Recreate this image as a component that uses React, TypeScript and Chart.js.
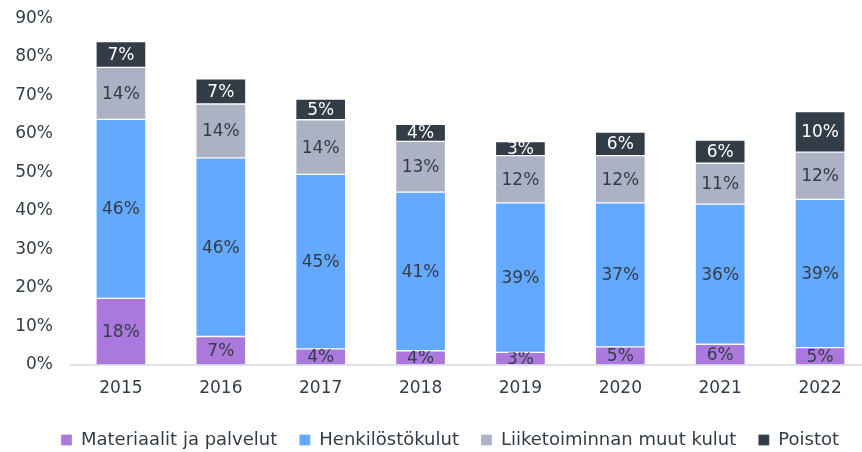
import React, { useEffect, useRef } from "react";
import { Chart, registerables } from "chart.js";

Chart.register(...registerables);

const years = ["2015", "2016", "2017", "2018", "2019", "2020", "2021", "2022"];

const materiaalit = [17.3, 7.4, 4.2, 3.7, 3.3, 4.7, 5.4, 4.5];
const henkilosto = [46.5, 46.4, 45.3, 41.2, 38.8, 37.4, 36.4, 38.5];
const muutKulut = [13.5, 14.0, 14.2, 13.2, 12.3, 12.3, 10.6, 12.3];
const poistot = [6.7, 6.5, 5.4, 4.4, 3.6, 6.1, 6.0, 10.5];

const materiaalitLabels = ["18%", "7%", "4%", "4%", "3%", "5%", "6%", "5%"];
const henkilostoLabels = ["46%", "46%", "45%", "41%", "39%", "37%", "36%", "39%"];
const muutKulutLabels = ["14%", "14%", "14%", "13%", "12%", "12%", "11%", "12%"];
const poistotLabels = ["7%", "7%", "5%", "4%", "3%", "6%", "6%", "10%"];

const yTicks = [0, 10, 20, 30, 40, 50, 60, 70, 80, 90];

const FONT = "'DejaVu Sans', sans-serif";
const TEXT = "#333d47";

const segmentLabels = {
  id: "segmentLabels",
  afterDatasetsDraw(chart: any) {
    const ctx = chart.ctx;
    chart.data.datasets.forEach((ds: any, di: number) => {
      const meta = chart.getDatasetMeta(di);
      if (meta.hidden) return;
      meta.data.forEach((bar: any, i: number) => {
        const text = ds.valueLabels[i];
        const top = Math.min(bar.y, bar.base);
        const bottom = Math.max(bar.y, bar.base);
        const left = bar.x - bar.width / 2;
        ctx.save();
        ctx.beginPath();
        ctx.rect(left, top, bar.width, bottom - top);
        ctx.clip();
        ctx.fillStyle = ds.labelColor;
        ctx.font = "17px " + FONT;
        ctx.textAlign = "center";
        ctx.textBaseline = "middle";
        ctx.fillText(text, bar.x, (top + bottom) / 2 + 1);
        ctx.restore();
      });
    });
  },
};

export default function App() {
  const ref = useRef<HTMLCanvasElement>(null);
  useEffect(() => {
    if (!ref.current) return;
    const chart = new Chart(ref.current, {
      type: "bar",
      data: {
        labels: years,
        datasets: [
          {
            label: "Materiaalit ja palvelut",
            data: materiaalit,
            backgroundColor: "#ab78dd",
            valueLabels: materiaalitLabels,
            labelColor: TEXT,
          },
          {
            label: "Henkilöstökulut",
            data: henkilosto,
            backgroundColor: "#63a9ff",
            valueLabels: henkilostoLabels,
            labelColor: TEXT,
          },
          {
            label: "Liiketoiminnan muut kulut",
            data: muutKulut,
            backgroundColor: "#acb2c4",
            valueLabels: muutKulutLabels,
            labelColor: TEXT,
          },
          {
            label: "Poistot",
            data: poistot,
            backgroundColor: "#333d48",
            valueLabels: poistotLabels,
            labelColor: "#ffffff",
          },
        ] as any,
      },
      options: {
        animation: false,
        responsive: false,
        maintainAspectRatio: false,
        layout: { padding: { top: 18.5, left: 11, right: 0, bottom: 0 } },
        datasets: {
          bar: {
            barThickness: 50,
            borderWidth: 1,
            borderColor: "rgba(255,255,255,0.25)",
            borderSkipped: false,
          },
        } as any,
        scales: {
          x: {
            stacked: true,
            grid: { display: true, color: "rgba(0,0,0,0)", drawTicks: false },
            border: { display: true, color: "#dfe3e9", width: 2 },
            ticks: { color: TEXT, font: { family: FONT, size: 17 }, padding: 13 },
            afterFit(scale: any) {
              scale.height = 44;
            },
          },
          y: {
            stacked: true,
            min: 0,
            max: 90,
            afterBuildTicks(scale: any) {
              scale.ticks = yTicks.map((v) => ({ value: v }));
            },
            afterFit(scale: any) {
              scale.width = 60;
              scale.paddingTop = 0;
              scale.paddingBottom = 0;
            },
            grid: { display: false, drawTicks: false },
            border: { display: false },
            ticks: {
              color: TEXT,
              font: { family: FONT, size: 17 },
              padding: 18,
              callback: (v: any) => v + "%",
            },
          },
          yRight: {
            position: "right",
            display: true,
            min: 0,
            max: 90,
            grid: { display: false, drawTicks: false },
            border: { display: false },
            ticks: { display: false },
            afterFit(scale: any) {
              scale.width = 19;
              scale.paddingTop = 0;
              scale.paddingBottom = 0;
            },
          },
        },
        plugins: {
          legend: {
            position: "bottom",
            labels: {
              boxWidth: 11,
              boxHeight: 11,
              color: TEXT,
              font: { family: FONT, size: 18 },
              padding: 22,
            },
          },
          tooltip: { enabled: false },
        },
      },
      plugins: [segmentLabels],
    } as any);
    return () => chart.destroy();
  }, []);
  return (
    <div
      style={{
        position: "fixed",
        left: 0,
        top: 0,
        width: 862,
        height: 452,
        overflow: "hidden",
        background: "#ffffff",
      }}
    >
      <canvas ref={ref} width={889} height={459} style={{ width: 889, height: 459, display: "block" }} />
    </div>
  );
}
